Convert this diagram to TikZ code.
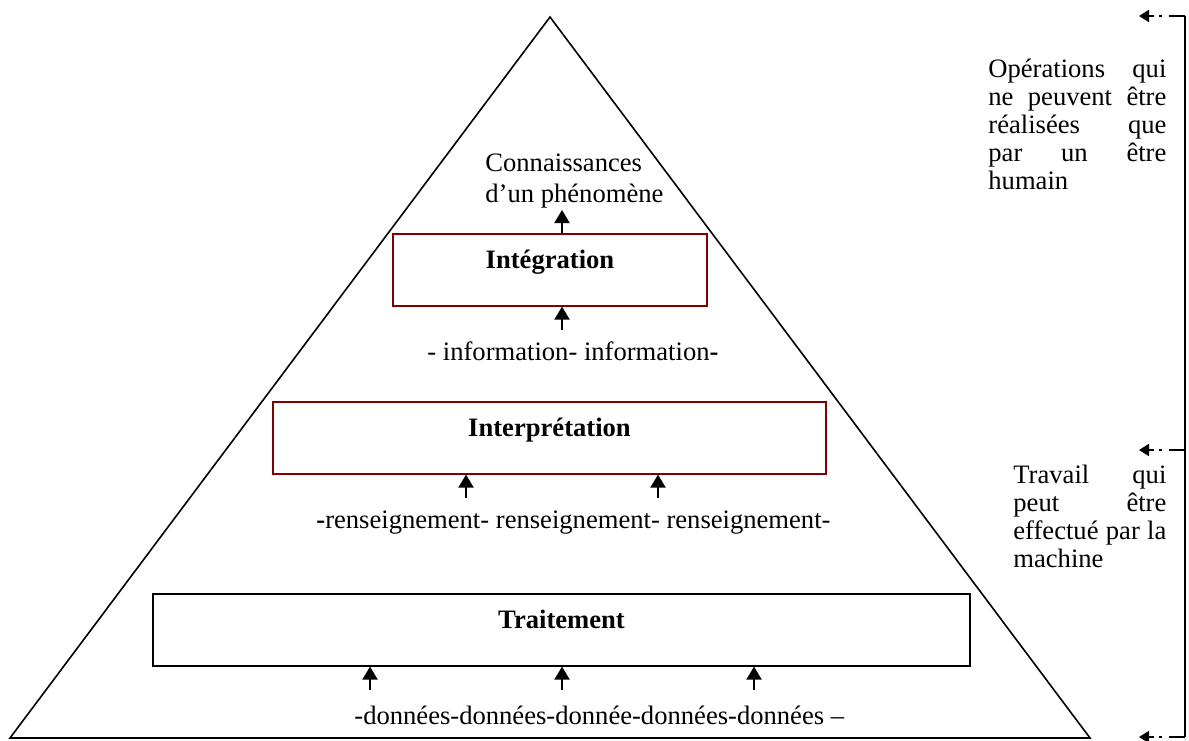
\documentclass[tikz,border=0pt]{standalone}
\usepackage{fontspec}
\setmainfont{Liberation Serif}
\usetikzlibrary{arrows.meta,calc}
\definecolor{boxred}{RGB}{128,0,0}
\begin{document}
\begin{tikzpicture}[x=0.5pt,y=-0.5pt,
  font=\fontsize{13.3}{14}\selectfont,
  box/.style={draw, line width=0.8pt, inner xsep=0pt, inner ysep=0pt,
    text height=17.5pt, text depth=18.5pt, minimum height=36pt,
    anchor=north, font=\fontsize{13.3}{14}\selectfont\bfseries},
  redbox/.style={box, draw=boxred},
  upar/.style={-{Triangle[length=6.5pt,width=7.5pt]}, line width=1pt},
  txt/.style={inner sep=0pt, anchor=base west},
  sidear/.style={dash pattern=on 8pt off 3.5pt on 1.5pt off 2.5pt,
    -{Triangle[length=5pt,width=6pt]}, line width=0.9pt}]
\useasboundingbox (0,0) rectangle (1189,740);

% pyramid
\coordinate (apex) at (550,17);
\coordinate (bl) at (10,738);
\coordinate (br) at (1090,738);
\draw[line width=0.8pt] (apex) -- (br) -- (bl) -- cycle;
\draw[line width=1.2pt] (bl) -- (br);

% boxes
\node[redbox, minimum width=157pt] (integ) at (550,233) {Intégration};
\node[redbox, minimum width=276.5pt] (interp) at (549.5,401) {Interprétation};
\node[box, minimum width=408.5pt] (trait) at (561.5,593) {Traitement};

% texts
\node[txt] (conn) at (485,171) {\fontsize{13.3}{15.5}\selectfont\begin{tabular}[t]{@{}l@{}}Connaissances\\d’un phénomène\end{tabular}};
\node[txt] (info) at (427,360) {- information- information\textbf{-}};
\node[txt] (rens) at (316,528) {\textbf{-}renseignement- renseignement- renseignement-};
\node[txt] (donn) at (354,724) {-données-données-donnée-données-données –};

\node[txt] (human) at (988,77) {\begin{tabular}[t]{@{}l@{}}
\makebox[89pt][s]{Opérations qui}\\
\makebox[89pt][s]{ne peuvent être}\\
\makebox[89pt][s]{réalisées que}\\
\makebox[89pt][s]{par un être}\\
humain\end{tabular}};
\node[txt] (mach) at (1013,483) {\begin{tabular}[t]{@{}l@{}}
\makebox[76.5pt][s]{Travail qui}\\
\makebox[76.5pt][s]{peut être}\\
\makebox[76.5pt][s]{effectué par la}\\
machine\end{tabular}};

% arrows
\coordinate (a0) at (562,210);
\draw[upar] (integ.north -| a0) -- (a0);
\coordinate (a1) at (562,330);
\draw[upar] (a1) -- (integ.south -| a1);
\coordinate (a2) at (466,498);
\coordinate (a3) at (658,498);
\draw[upar] (a2) -- (interp.south -| a2);
\draw[upar] (a3) -- (interp.south -| a3);
\coordinate (a4) at (370,690);
\coordinate (a5) at (562,690);
\coordinate (a6) at (754,690);
\draw[upar] (a4) -- (trait.south -| a4);
\draw[upar] (a5) -- (trait.south -| a5);
\draw[upar] (a6) -- (trait.south -| a6);

% right bracket
\coordinate (bt) at (1185,16);
\coordinate (bm) at (1185,450);
\coordinate (bb) at (1185,737);
\coordinate (tt) at (1139,16);
\coordinate (tm) at (1139,450);
\coordinate (tb) at (1139,737);
\draw[line width=0.9pt] (bt) -- (bb);
\draw[sidear] (bt) -- (tt);
\draw[sidear] (bm) -- (tm);
\draw[sidear] (bb) -- (tb);
\end{tikzpicture}
\end{document}
